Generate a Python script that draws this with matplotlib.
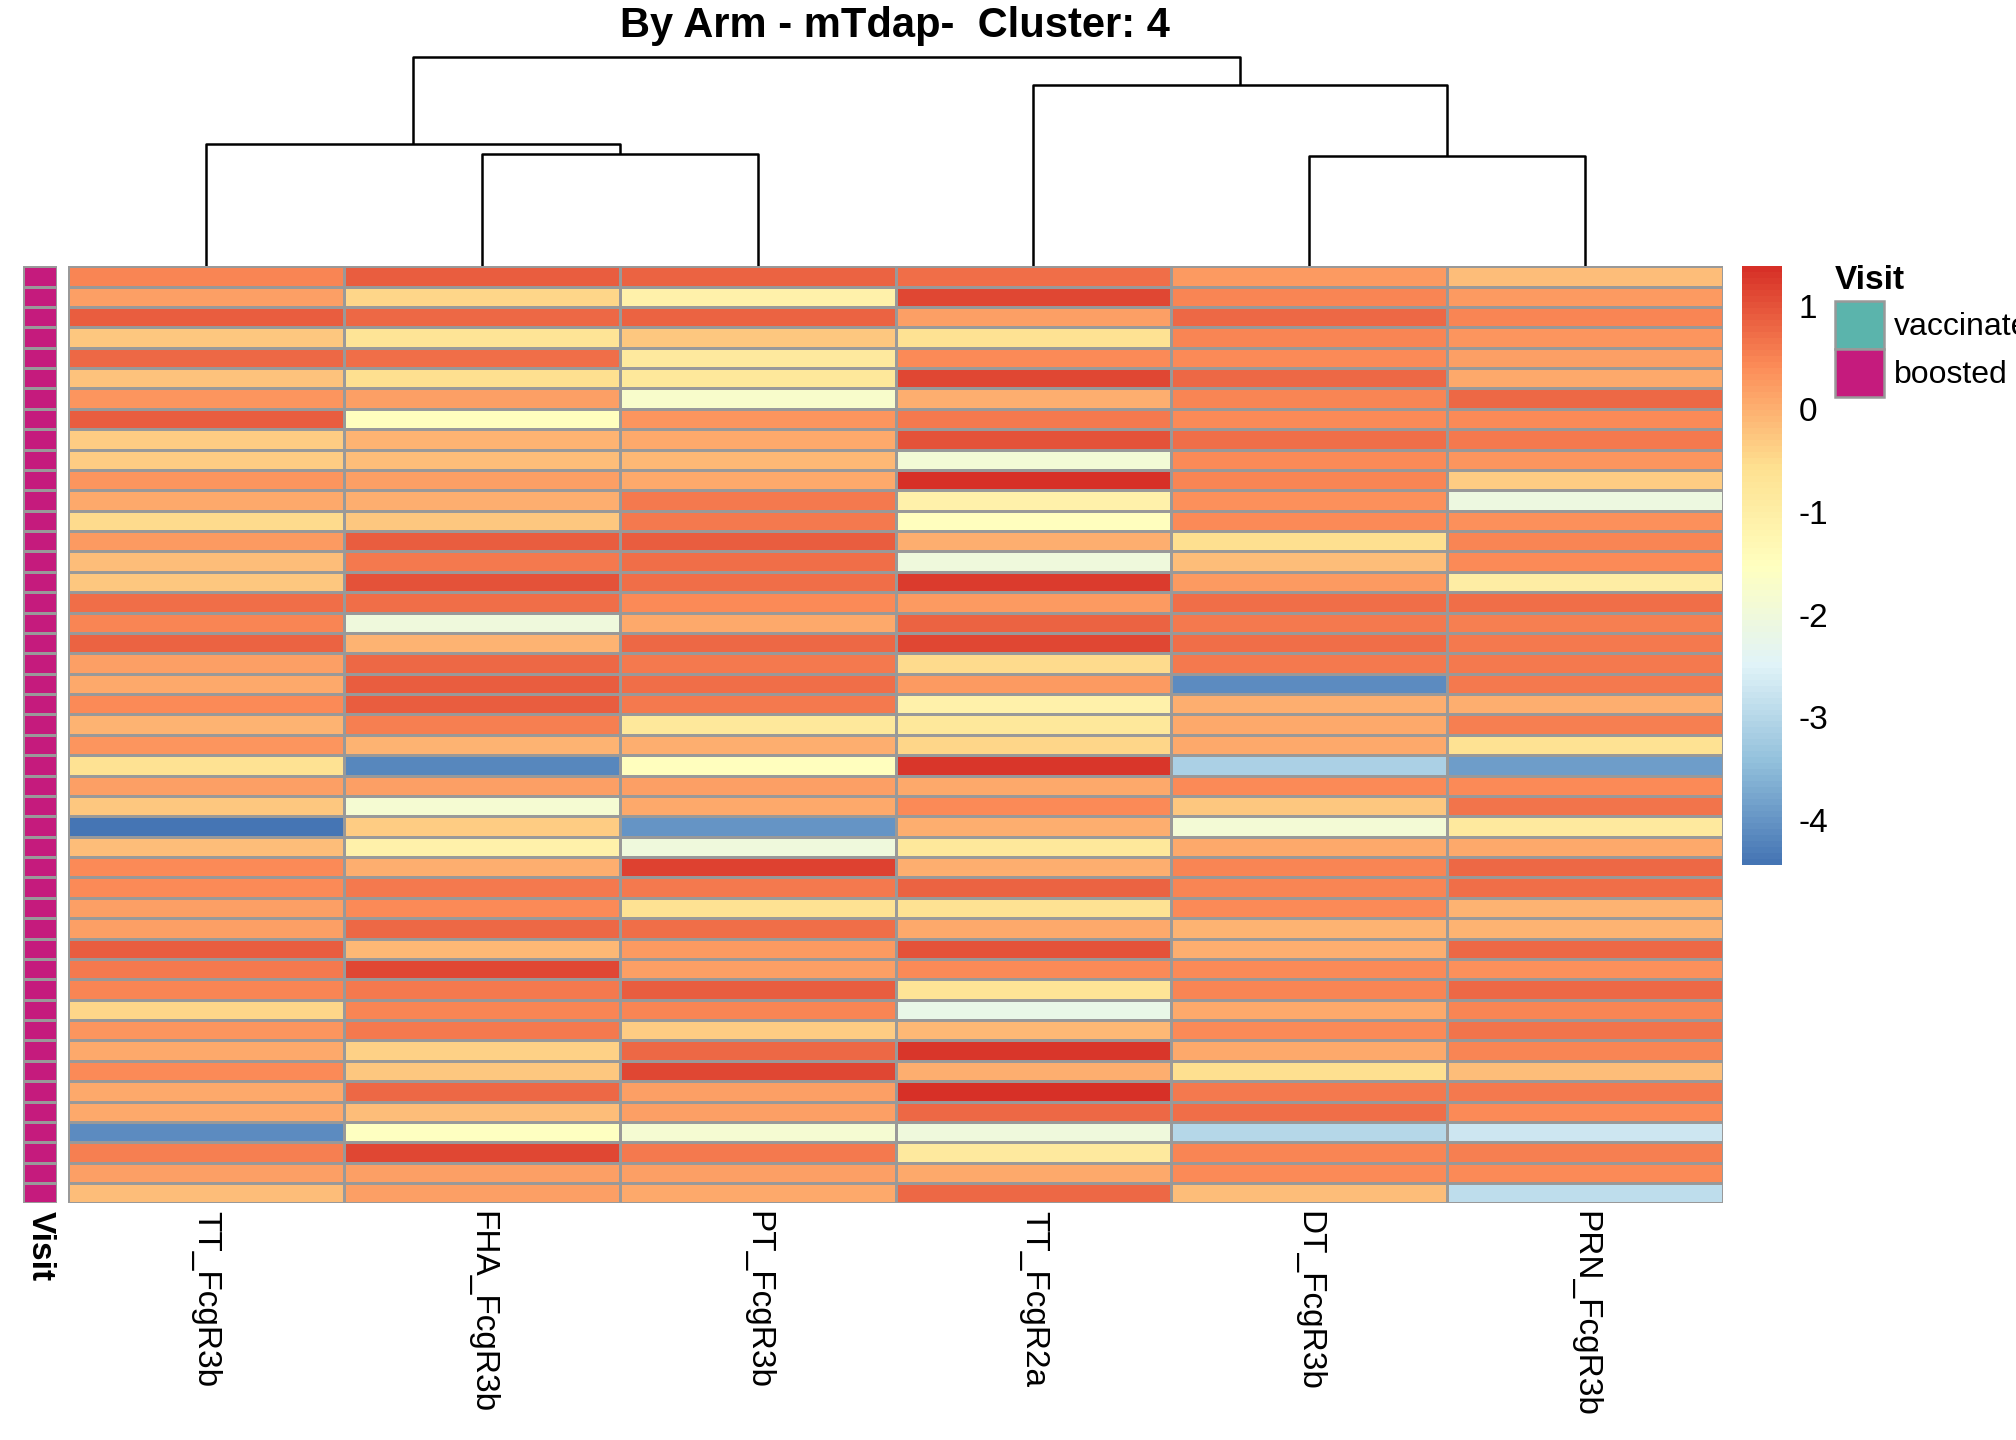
import matplotlib
matplotlib.use("Agg")
import matplotlib.pyplot as plt
import numpy as np
from matplotlib.colors import LinearSegmentedColormap, Normalize
from matplotlib.patches import Rectangle

plt.rcParams['font.family'] = ['Liberation Sans', 'DejaVu Sans']
plt.rcParams['axes.unicode_minus'] = False

# columns in dendrogram order
columnas = ["TT_FcgR3b", "FHA_FcgR3b", "PT_FcgR3b", "TT_FcgR2a", "DT_FcgR3b", "PRN_FcgR3b"]

# scaled values, one list per column, 46 samples (top to bottom)
tt_r3b = [0.5, 0.2, 0.9, -0.25, 0.8, -0.2, 0.3, 0.9, -0.35, -0.35, 0.3, 0.1,
          -0.5, 0.25, -0.15, -0.25, 0.7, 0.5, 0.85, 0.2, 0.1, 0.42, -0.05, 0.3,
          -0.6, 0.2, -0.25, -4.4, -0.15, 0.4, 0.4, 0.2, 0.2, 0.9, 0.6, 0.5,
          -0.45, 0.3, 0.05, 0.4, 0.1, 0.05, -4.1, 0.55, 0.2, -0.15]
fha_r3b = [0.9, -0.45, 0.75, -0.7, 0.7, -0.55, 0.22, -1.5, -0.05, -0.15, 0.2, 0.0,
           -0.3, 0.9, 0.6, 1.0, 0.7, -2.0, -0.05, 0.8, 0.9, 0.9, 0.55, -0.05,
           -4.2, 0.2, -1.85, -0.35, -1.1, 0.0, 0.6, 0.4, 0.8, -0.1, 1.1, 0.6,
           0.5, 0.6, -0.4, -0.25, 0.8, -0.15, -1.55, 1.1, 0.2, 0.2]
pt_r3b = [0.85, -1.1, 0.85, -0.25, -0.85, -0.8, -1.75, 0.3, 0.1, -0.07, 0.1, 0.6,
          0.6, 0.9, 0.7, 0.7, 0.42, 0.1, 0.8, 0.6, 0.7, 0.6, -0.8, 0.0,
          -1.5, 0.2, 0.1, -4.0, -2.0, 1.2, 0.6, -0.6, 0.7, 0.25, 0.2, 0.9,
          0.5, -0.35, 0.8, 1.1, 0.2, 0.2, -1.85, 0.6, 0.2, 0.05]
tt_r2a = [0.7, 1.1, 0.2, -0.6, 0.42, 1.1, 0.0, 0.6, 1.0, -1.9, 1.35, -1.1,
          -1.5, 0.0, -2.0, 1.25, 0.25, 0.85, 1.1, -0.5, 0.25, -1.1, -0.8, -0.45,
          1.3, 0.05, 0.4, 0.0, -0.8, 0.0, 0.85, -0.6, 0.1, 1.0, 0.4, -0.7,
          -2.2, -0.1, 1.3, 0.0, 1.35, 0.75, -2.0, -0.85, 0.05, 0.75]
dt_r3b = [0.25, 0.5, 0.75, 0.5, 0.42, 0.75, 0.5, 0.4, 0.7, 0.42, 0.5, 0.35,
          0.4, -0.55, -0.15, 0.25, 0.7, 0.6, 0.7, 0.6, -4.1, 0.0, 0.1, 0.1,
          -3.1, 0.4, -0.25, -1.9, 0.05, 0.5, 0.5, 0.4, -0.05, 0.0, 0.4, 0.5,
          0.05, 0.4, 0.05, -0.55, 0.6, 0.7, -3.0, 0.5, 0.4, -0.15]
prn_r3b = [-0.15, 0.25, 0.5, 0.3, 0.22, 0.05, 0.75, 0.45, 0.6, 0.3, -0.35, -2.1,
           0.35, 0.5, 0.4, -1.0, 0.7, 0.55, 0.6, 0.6, 0.6, 0.0, 0.55, -0.65,
           -3.9, 0.4, 0.65, -0.85, 0.05, 0.75, 0.7, -0.05, -0.05, 0.75, 0.35, 0.75,
           0.5, 0.65, 0.5, -0.15, 0.6, 0.4, -2.7, 0.55, 0.4, -2.9]

# column dendrogram: (left child, right child, height); leaves 0..5, new nodes 6..
uniones = [(1, 2, 87), (4, 5, 86), (0, 6, 95), (3, 7, 141), (8, 9, 163)]

visita_grupos = ["vaccinated", "boosted"]
visita_colores = ["#5BB4AC", "#C51B7D"]
visita = ["boosted"] * 46

escala_min, escala_max = -4.44, 1.39
ticks_barra = [1, 0, -1, -2, -3, -4]

W, H = 1568.0, 1120.0  # layout units of the reference
gris = "#999999"


def caja(x0, y0, x1, y1):
    """convierte una caja en unidades de la referencia a fracciones de figura"""
    return [x0 / W, 1 - y1 / H, (x1 - x0) / W, (y1 - y0) / H]


def main():
    datos = np.array([tt_r3b, fha_r3b, pt_r3b, tt_r2a, dt_r3b, prn_r3b]).T
    nfil, ncol = datos.shape

    paleta = ["#4575B4", "#91BFDB", "#E0F3F8", "#FFFFBF", "#FEE090", "#FC8D59", "#D73027"]
    cmap = LinearSegmentedColormap.from_list("rdylbu", paleta, N=100)
    norma = Normalize(vmin=escala_min, vmax=escala_max)

    fig = plt.figure(figsize=(20.16, 14.4), dpi=100)

    # heatmap
    ax = fig.add_axes(caja(53, 207, 1340, 936))
    malla = ax.pcolormesh(datos, cmap=cmap, norm=norma, edgecolors=gris, linewidth=1.8)
    ax.set_xlim(0, ncol)
    ax.set_ylim(nfil, 0)
    ax.axis("off")
    for i, nombre in enumerate(columnas):
        ax.text(i + 0.5, nfil + 0.35, nombre, rotation=270, ha="center", va="top",
                fontsize=24)

    # annotation column
    ax_an = fig.add_axes(caja(18, 207, 44, 936))
    codigos = np.array([[visita_grupos.index(v)] for v in visita])
    cmap_an = matplotlib.colors.ListedColormap(visita_colores)
    ax_an.pcolormesh(codigos, cmap=cmap_an, vmin=-0.5, vmax=1.5,
                     edgecolors=gris, linewidth=1.8)
    ax_an.set_xlim(0, 1)
    ax_an.set_ylim(nfil, 0)
    ax_an.axis("off")
    ax_an.text(0.5, nfil + 0.35, "Visit", rotation=270, ha="center", va="top",
               fontsize=24, fontweight="bold")

    # dendrogram
    ax_d = fig.add_axes(caja(53, 30, 1340, 207))
    pos = {i: i + 0.5 for i in range(ncol)}
    alt = {i: 0 for i in range(ncol)}
    for k, (a, b, h) in enumerate(uniones):
        ax_d.plot([pos[a], pos[a], pos[b], pos[b]], [alt[a], h, h, alt[b]],
                  color="black", linewidth=1.8, solid_capstyle="butt")
        pos[ncol + k] = (pos[a] + pos[b]) / 2
        alt[ncol + k] = h
    ax_d.set_xlim(0, ncol)
    ax_d.set_ylim(0, 177)
    ax_d.axis("off")

    # colour bar
    cax = fig.add_axes(caja(1355, 207, 1386, 673))
    barra = fig.colorbar(malla, cax=cax, ticks=ticks_barra)
    barra.outline.set_visible(False)
    cax.tick_params(length=0, labelsize=24, pad=12)

    # legend for Visit
    ax_l = fig.add_axes([0, 0, 1, 1])
    ax_l.set_xlim(0, W)
    ax_l.set_ylim(H, 0)
    ax_l.axis("off")
    ax_l.text(1427, 218, "Visit", fontsize=24, fontweight="bold", va="center", ha="left")
    for j, (g, c) in enumerate(zip(visita_grupos, visita_colores)):
        y0 = 234 + j * 37.5
        ax_l.add_patch(Rectangle((1427, y0), 38, 37.5, facecolor=c, edgecolor=gris,
                                 linewidth=1.8))
        ax_l.text(1473, y0 + 20, g, fontsize=23, va="center", ha="left")

    fig.text(696 / W, 1 - 20 / H, "By Arm - mTdap-  Cluster: 4", ha="center",
             va="center", fontsize=30, fontweight="bold")

    fig.savefig("out.png", dpi=100)


main()
